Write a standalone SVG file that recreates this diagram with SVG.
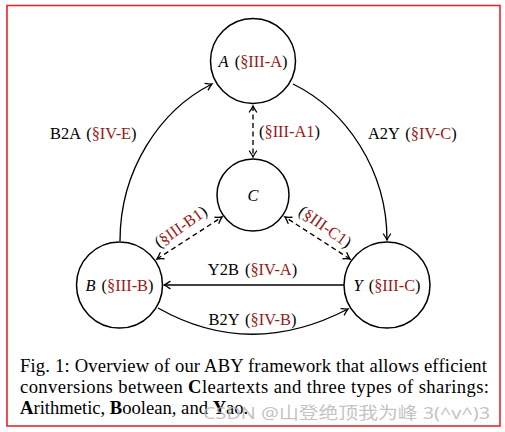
<svg xmlns="http://www.w3.org/2000/svg" width="505" height="432" viewBox="0 0 505 432">
<style>
.n{fill:none;stroke:#000;stroke-width:1.5}
.t{font-family:"Liberation Serif","Times New Roman",serif;font-size:16.4px;fill:#000}
.r{fill:#9a1a1a}
.i{font-style:italic}
.e{fill:none;stroke:#000;stroke-width:1.35}
.d{stroke-dasharray:5,3.5}
.cap{font-family:"Liberation Serif","Times New Roman",serif;font-size:18.6px;fill:#000}
.b{font-weight:bold}
</style>
<defs>
<marker id="ar" markerUnits="userSpaceOnUse" markerWidth="12" markerHeight="12" viewBox="-8 -6 10 12" refX="0" refY="0" orient="auto-start-reverse">
<path d="M-6,-3.6 Q-2,-0.8 0,0 Q-2,0.8 -6,3.6" fill="none" stroke="#000" stroke-width="1.3" stroke-linecap="round"/>
</marker>
</defs>
<rect x="7" y="5.5" width="493" height="420.5" fill="#fff" stroke="#e8262a" stroke-width="1.6"/>
<g id="connectors">
<path class="e" d="M120,241 C120,170 160,110 212,84" marker-end="url(#ar)"/>
<path class="e" d="M293,84 C346,110 387,170 387,240" marker-end="url(#ar)"/>
<path class="e" d="M344,285 L164,285" marker-end="url(#ar)"/>
<path class="e" d="M158,308 Q250,360 348,309" marker-end="url(#ar)"/>
<path class="e d" d="M253,106 L253,157" marker-start="url(#ar)" marker-end="url(#ar)"/>
<path class="e d" d="M157,259 L222,217" marker-start="url(#ar)" marker-end="url(#ar)"/>
<path class="e d" d="M350,259 L285,217" marker-start="url(#ar)" marker-end="url(#ar)"/>
<text class="t" x="50" y="138.5">B2A <tspan dx="2">(</tspan><tspan class="r">§IV-E</tspan>)</text>
<text class="t" x="368" y="138.5">A2Y <tspan dx="2">(</tspan><tspan class="r">§IV-C</tspan>)</text>
<text class="t" x="259" y="136.5">(<tspan class="r">§III-A1</tspan>)</text>
<text class="t" x="252.5" y="275" text-anchor="middle">Y2B <tspan dx="2">(</tspan><tspan class="r">§IV-A</tspan>)</text>
<text class="t" x="252.5" y="325" text-anchor="middle">B2Y <tspan dx="2">(</tspan><tspan class="r">§IV-B</tspan>)</text>
<text class="t" transform="translate(181,227) rotate(-35)" x="0" y="5" text-anchor="middle">(<tspan class="r">§III-B1</tspan>)</text>
<text class="t" transform="translate(325,227) rotate(35)" x="0" y="5" text-anchor="middle">(<tspan class="r">§III-C1</tspan>)</text>
</g>
<g id="nodeA">
<circle class="n" cx="253" cy="61" r="42.5"/>
<text class="t" x="253" y="66.5" text-anchor="middle"><tspan class="i">A</tspan> <tspan dx="2">(</tspan><tspan class="r">§III-A</tspan>)</text>
</g>
<g id="nodeC">
<circle class="n" cx="253" cy="195" r="36"/>
<text class="t i" x="253" y="200.5" text-anchor="middle">C</text>
</g>
<g id="nodeB">
<circle class="n" cx="119.5" cy="285" r="43"/>
<text class="t" x="119.5" y="290.5" text-anchor="middle"><tspan class="i">B</tspan> <tspan dx="2">(</tspan><tspan class="r">§III-B</tspan>)</text>
</g>
<g id="nodeY">
<circle class="n" cx="387" cy="285" r="43"/>
<text class="t" x="387" y="290.5" text-anchor="middle"><tspan class="i">Y</tspan> <tspan dx="2">(</tspan><tspan class="r">§III-C</tspan>)</text>
</g>
<g id="caption">
<text class="cap" x="20" y="372" textLength="467" lengthAdjust="spacing">Fig. 1: Overview of our ABY framework that allows efficient</text>
<text class="cap" x="20" y="393" textLength="469" lengthAdjust="spacing">conversions between <tspan class="b">C</tspan>leartexts and three types of sharings:</text>
<text class="cap" x="20" y="413.5"><tspan class="b">A</tspan>rithmetic, <tspan class="b">B</tspan>oolean, and <tspan class="b">Y</tspan>ao.</text>
<text x="203" y="419" textLength="287" lengthAdjust="spacingAndGlyphs" style="font-family:'Noto Sans','Noto Sans CJK SC',sans-serif;font-size:17px;fill:#b8b8b8;fill-opacity:0.85">CSDN @山登绝顶我为峰 3(^v^)3</text>
</g>
</svg>
